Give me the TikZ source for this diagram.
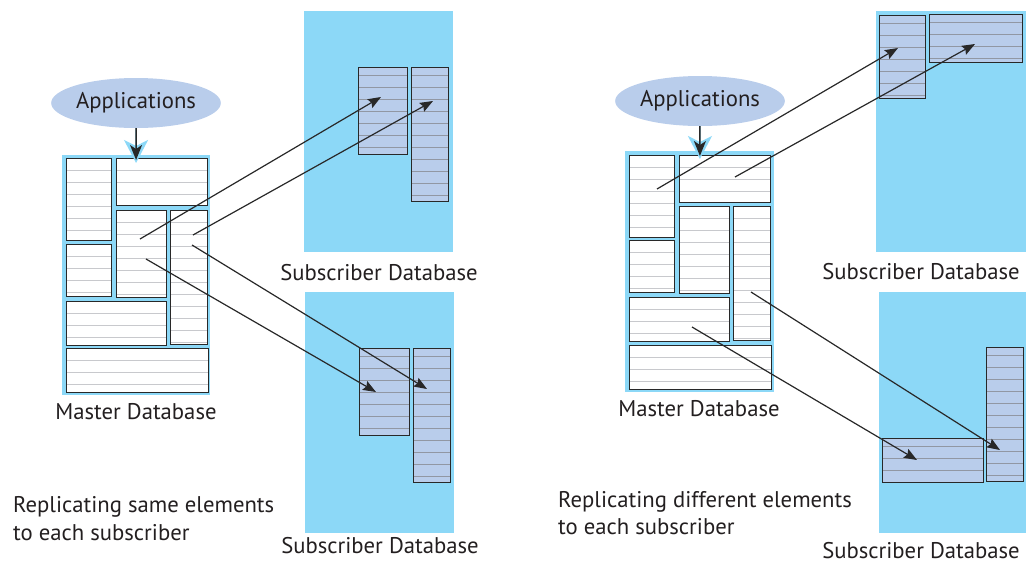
\documentclass[tikz,border=0pt]{standalone}
\usepackage{fontspec}
\setmainfont{PT Sans}
\usetikzlibrary{arrows.meta,shapes.geometric}

\definecolor{skyfill}{RGB}{140,216,247}
\definecolor{lavender}{RGB}{185,205,235}
\definecolor{mstripe}{RGB}{200,201,205}
\definecolor{sstripe}{RGB}{145,151,163}
\definecolor{boxline}{RGB}{40,40,40}
\definecolor{inktext}{RGB}{35,31,32}

\begin{document}
\begin{tikzpicture}
[x=1pt,y=-1pt,>=Stealth,
 panel/.style={fill=skyfill,inner sep=0pt,anchor=north west},
 sz/.style 2 args={minimum width=#1,minimum height=#2},
 mbox/.style={draw=boxline,line width=1.4pt,fill=white,inner sep=0pt,anchor=north west,
   path picture={\foreach \k in {1,...,12}
     \draw[mstripe,line width=1pt] ([yshift=-12pt*\k]path picture bounding box.north west)
       -- ([yshift=-12pt*\k]path picture bounding box.north east);}},
 sbox/.style={draw=boxline,line width=1.4pt,fill=lavender,inner sep=0pt,anchor=north west,
   path picture={\foreach \k in {1,...,12}
     \draw[sstripe,line width=1pt] ([yshift=4pt-12pt*\k]path picture bounding box.north west)
       -- ([yshift=4pt-12pt*\k]path picture bounding box.north east);}},
 app/.style={ellipse,fill=lavender,inner sep=0pt,sz={161}{50},text=inktext,
   font=\fontsize{22.7}{27}\selectfont},
 lbl/.style={font=\fontsize{22.7}{27}\selectfont,text=inktext,inner sep=0pt,anchor=base},
 copy/.style={draw=boxline,line width=1.2pt,-{Stealth[length=13pt,width=10pt,inset=2pt]}},
 halo/.style={draw=skyfill,line width=1.5pt,shorten >=-8pt,
   -{Stealth[length=23pt,width=24pt,inset=6pt]}},
 feed/.style={draw=boxline,line width=1.5pt,shorten >=-5pt,
   -{Stealth[length=15pt,width=12pt,inset=4pt]}},]

\useasboundingbox (0,0) rectangle (1026,563);

%Subscriber panels
\node[panel,sz={149}{241}] (subTL) at (304,11) {};
\node[panel,sz={149}{241}] (subBL) at (305,292) {};
\node[panel,sz={150}{241}] (subTR) at (876,11) {};
\node[panel,sz={147}{241}] (subBR) at (879,292) {};

%Master databases
\node[panel,sz={148}{240}] (mastL) at (62,155) {};
\node[panel,sz={149}{241}] (mastR) at (625,151) {};

\begin{scope}[shift={(62,155)}]
\node[mbox,sz={45}{82}] (Ltl) at (4,3) {};
\node[mbox,sz={91}{47}] (Ltr) at (54,3) {};
\node[mbox,sz={50}{87}] (Lmd) at (54,55) {};
\node[mbox,sz={37}{134}] (Lrt) at (108,55) {};
\node[mbox,sz={45}{52}] (Llm) at (4,89) {};
\node[mbox,sz={100}{44}] (Lwd) at (4,146) {};
\node[mbox,sz={142}{44}] (Lbt) at (4,193) {};
\end{scope}

\begin{scope}[shift={(625,151)}]
\node[mbox,sz={45}{82}] (Rtl) at (4,4) {};
\node[mbox,sz={91}{47}] (Rtr) at (54,4) {};
\node[mbox,sz={50}{87}] (Rmd) at (54,55) {};
\node[mbox,sz={37}{134}] (Rrt) at (108,55) {};
\node[mbox,sz={45}{52}] (Rlm) at (4,89) {};
\node[mbox,sz={100}{44}] (Rwd) at (4,146) {};
\node[mbox,sz={142}{44}] (Rbt) at (4,194) {};
\end{scope}

%Replicated tables
\node[sbox,sz={49}{87}] (TLa) at (358,67) {};
\node[sbox,sz={37}{134}] (TLb) at (411,67) {};
\node[sbox,sz={50}{87}] (BLa) at (359,348) {};
\node[sbox,sz={37}{134}] (BLb) at (413,348) {};
\node[sbox,sz={46}{83}] (TRa) at (879,15) {};
\node[sbox,sz={93}{48}] (TRb) at (929,14) {};
\node[sbox,sz={101}{44}] (BRa) at (882,438) {};
\node[sbox,sz={37}{134}] (BRb) at (986,347) {};

%Applications
\node[app] (appL) at (136,103) {Applications};
\node[app] (appR) at (700,101) {Applications};
\draw[halo] (appL) -- (mastL);
\draw[feed] (appL) -- (mastL);
\draw[halo] (appR) -- (mastR);
\draw[feed] (appR) -- (mastR);

%Arrow ends
\coordinate (L1s) at (140,239);   \coordinate (L1e) at (381,97);
\coordinate (L2s) at (193,235);   \coordinate (L2e) at (433,101);
\coordinate (L3s) at (146,259);   \coordinate (L3e) at (376,392);
\coordinate (L4s) at (192,245);   \coordinate (L4e) at (427,389);
\coordinate (R1s) at (657,189);   \coordinate (R1e) at (898,48);
\coordinate (R2s) at (735,177);   \coordinate (R2e) at (975,44);
\coordinate (R3s) at (692,327);   \coordinate (R3e) at (917,460);
\coordinate (R4s) at (751,292);   \coordinate (R4e) at (1000,450);

\draw[copy] (L1s) -- (L1e);
\draw[copy] (L2s) -- (L2e);
\draw[copy] (L3s) -- (L3e);
\draw[copy] (L4s) -- (L4e);
\draw[copy] (R1s) -- (R1e);
\draw[copy] (R2s) -- (R2e);
\draw[copy] (R3s) -- (R3e);
\draw[copy] (R4s) -- (R4e);

%Labels
\node[lbl] (mdbL) at (136,419) {Master Database};
\node[lbl] (mdbR) at (699,416) {Master Database};
\node[lbl] (sdbTL) at (379,280) {Subscriber Database};
\node[lbl] (sdbBL) at (380,553) {Subscriber Database};
\node[lbl] (sdbTR) at (921,279) {Subscriber Database};
\node[lbl] (sdbBR) at (921,558) {Subscriber Database};
\node[lbl,anchor=base west] (noteL1) at (13,512) {Replicating same elements};
\node[lbl,anchor=base west] (noteL2) at (13,540) {to each subscriber};
\node[lbl,anchor=base west] (noteR1) at (558,507) {Replicating different elements};
\node[lbl,anchor=base west] (noteR2) at (558,534) {to each subscriber};

%
\end{tikzpicture}
\end{document}
